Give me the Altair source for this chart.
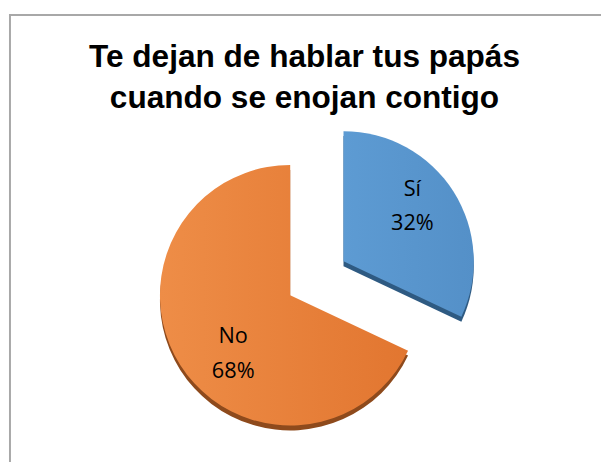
import altair as alt
import pandas as pd

# ---- data ----
categories = ["Sí", "No"]
values = [32, 68]
explode = [1, 0]
title_lines = ["Te dejan de hablar tus papás", "cuando se enojan contigo"]

df = pd.DataFrame({"cat": categories, "val": values, "exp": explode})

# ---- layout constants ----
W, H = 601, 457
CX, CY = 286, 288
R = 132
OFF = 64
LABR = 86
LABSHIFT = 0.17
DEPTH = 5

base = alt.Chart(df).transform_joinaggregate(
    total="sum(val)"
).transform_window(
    cum="sum(val)", frame=[None, 0]
).transform_calculate(
    t1="2*PI*datum.cum/datum.total",
    t0="2*PI*(datum.cum-datum.val)/datum.total",
).transform_calculate(
    mid="(datum.t0+datum.t1)/2",
).transform_calculate(
    cx=f"{CX} + datum.exp*{OFF}*sin(datum.mid)",
    cy=f"{CY} - datum.exp*{OFF}*cos(datum.mid)",
).transform_calculate(
    cys=f"datum.cy + {DEPTH}",
    lx=f"datum.cx + {LABR}*sin(datum.mid - {LABSHIFT})",
    ly=f"datum.cy - {LABR}*cos(datum.mid - {LABSHIFT})",
    label="datum.cat + '\\n' + datum.val + '%'",
)

shadow = base.mark_arc(outerRadius=R).encode(
    x=alt.X("cx:Q", scale=None),
    y=alt.Y("cys:Q", scale=None),
    theta=alt.Theta("t0:Q", scale=None),
    theta2="t1:Q",
    color=alt.Color("cat:N", scale=alt.Scale(domain=categories, range=["#2E5A82", "#8E4A1C"]), legend=None),
)

def slice_layer(cat, stops):
    return base.transform_filter(alt.datum.cat == cat).mark_arc(
        outerRadius=R,
        color=alt.Gradient(gradient="linear", stops=[alt.GradientStop(color=c, offset=o) for o, c in stops],
                           x1=0, x2=1, y1=0, y2=0),
    ).encode(
        x=alt.X("cx:Q", scale=None),
        y=alt.Y("cy:Q", scale=None),
        theta=alt.Theta("t0:Q", scale=None),
        theta2="t1:Q",
    )

blue = slice_layer("Sí", [(0, "#5D9BD3"), (1, "#5490C8")])
orange = slice_layer("No", [(0, "#EE8D47"), (1, "#E27630")])

labels = base.mark_text(
    font="Open Sans", fontSize=22, color="#000000", lineBreak="\n", lineHeight=35,
    align="center", baseline="middle", dx=6, dy=-16,
).encode(
    x=alt.X("lx:Q", scale=None),
    y=alt.Y("ly:Q", scale=None),
    text="label:N",
)

one = alt.Chart(pd.DataFrame({"k": [0]}))
title = one.mark_text(
    text=title_lines, font="Liberation Sans", fontSize=32, fontWeight="bold",
    color="#000000", align="center", baseline="alphabetic", lineHeight=41,
).encode(x=alt.value(300.5), y=alt.value(57))

border_top = one.mark_rule(color="#A8A8A8", strokeWidth=2).encode(
    x=alt.value(1), x2=alt.value(W), y=alt.value(4)
)
border_left = one.mark_rule(color="#A8A8A8", strokeWidth=2).encode(
    x=alt.value(2), y=alt.value(3), y2=alt.value(H)
)

chart = alt.layer(border_top, border_left, shadow, blue, orange, labels, title).properties(
    width=W, height=H, autosize=alt.AutoSizeParams(type="none"), padding=0,
    background="#FFFFFF",
).configure_view(stroke=None)

chart.save("out.html", embed_options={"renderer": "svg", "actions": False})
